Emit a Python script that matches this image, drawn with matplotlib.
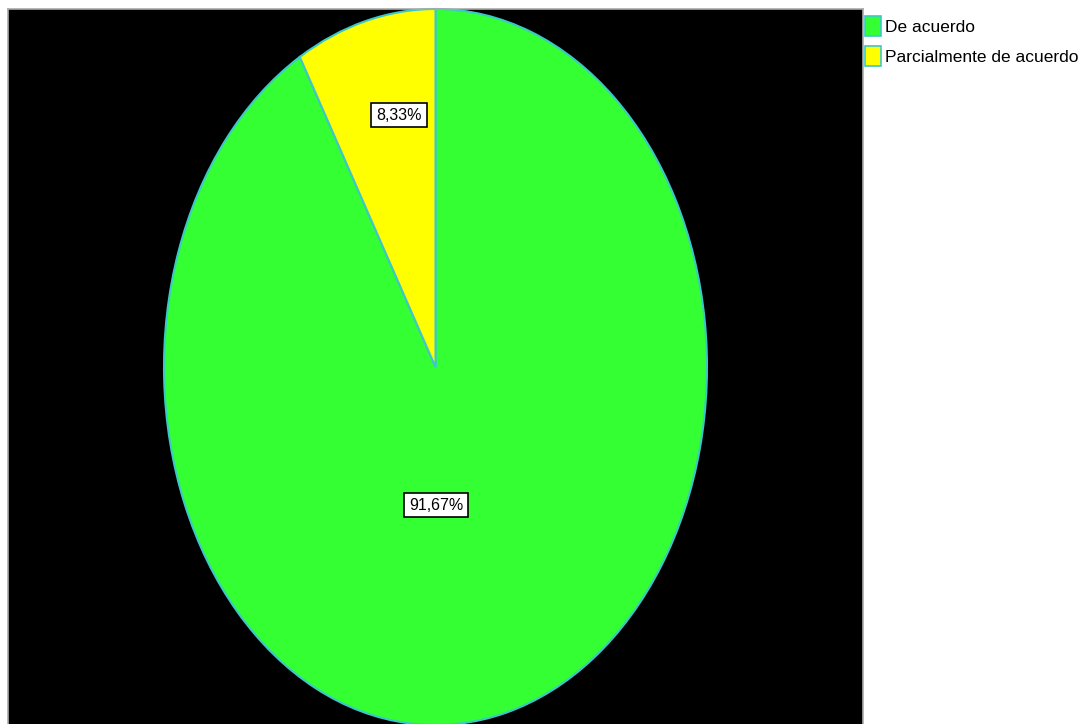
import matplotlib.pyplot as plt
from matplotlib.patches import Patch

categories = ['De acuerdo', 'Parcialmente de acuerdo']
values = [91.67, 8.33]
value_labels = ['91,67%', '8,33%']
colors = ['#33ff33', '#ffff00']
edge = '#3cc8c8'
font = ['Liberation Sans Narrow', 'Liberation Sans', 'DejaVu Sans']

W, H = 1086, 724
fig = plt.figure(figsize=(W / 100, H / 100), dpi=100)
fig.patch.set_facecolor('white')

# black plot area, in pixel terms x 8..863, y 9..724
ax = fig.add_axes([8 / W, 0, 855 / W, 715 / H])
ax.set_facecolor('black')

wedges, _ = ax.pie(values, colors=colors, startangle=90, counterclock=False,
                   radius=1.0, center=(0, 0),
                   wedgeprops=dict(edgecolor=edge, linewidth=1.5))

# stretch the circle into the tall ellipse of the original
cx, cy, rx, ry = 435.5, 367.0, 271.5, 358.0
ax.set_aspect('auto')
ax.set_xlim((8 - cx) / rx, (863 - cx) / rx)
ax.set_ylim((cy - 724) / ry, (cy - 9) / ry)
ax.set_frame_on(True)
for s in ax.spines.values():
    s.set_color('#aaaaaa')
    s.set_linewidth(1.2)
ax.spines['bottom'].set_visible(False)
ax.set_xticks([])
ax.set_yticks([])

# label positions (pixel offsets from centre)
label_pos = [(436, 505), (399, 115)]
for lab, (px, py) in zip(value_labels, label_pos):
    ax.text((px - cx) / rx, (cy - py) / ry, lab, ha='center', va='center',
            fontsize=11.5, family=font, color='black',
            bbox=dict(boxstyle='square,pad=0.3', facecolor='white',
                      edgecolor='black', linewidth=1.2))

handles = [Patch(facecolor=c, edgecolor=edge, linewidth=1.2) for c in colors]
fig.legend(handles, categories, loc='upper left',
           bbox_to_anchor=(862 / W, 1 - 13 / H), frameon=False,
           prop={'family': font, 'size': 12.5}, handlelength=0.9,
           handleheight=1.35, handletextpad=0.25, labelspacing=0.6,
           borderaxespad=0, borderpad=0.2)

fig.savefig('out.png', dpi=100)
